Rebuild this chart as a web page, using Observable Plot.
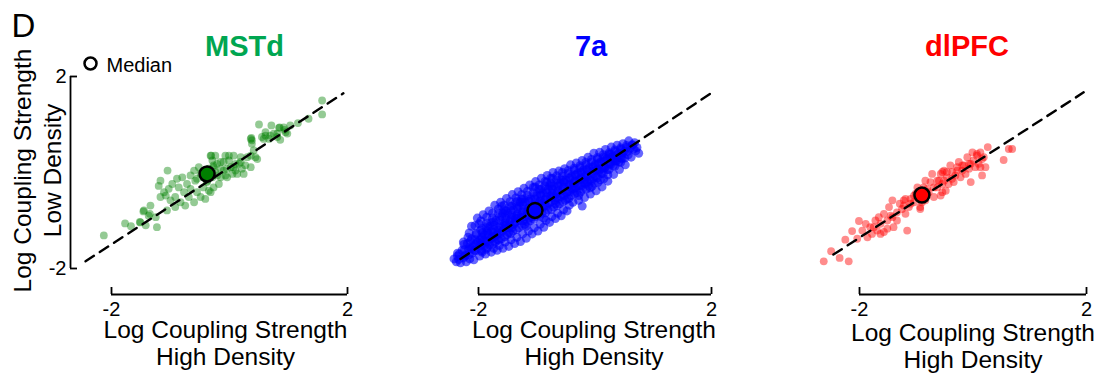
<!DOCTYPE html>
<html><head><meta charset="utf-8">
<script src="https://cdn.jsdelivr.net/npm/d3@7"></script>
<script src="https://cdn.jsdelivr.net/npm/@observablehq/plot@0.6"></script>
<style>
body{margin:0;background:#fff;}
#chart{position:relative;width:1099px;height:375px;display:flex;overflow:hidden;background:#fff;}
#chart svg{display:block;flex:none;}
</style></head><body><div id="chart"></div>
<script>
// ---------------- data ----------------
const regions = ["MSTd", "7a", "dlPFC"];
const xTicks = [-2, 2];
const yTicks = [-2, 2];
const tickLabels = ["-2", "2"];
const xLabel = "Log Coupling Strength\nHigh Density";
const yLabel = "Log Coupling Strength\nLow Density";
const legendLabel = "Median";
const panelLetter = "D";

const mstdPoints = [
[-2.13,-1.31],[-1.77,-1.06],[-1.67,-1.12],[-1.52,-1.03],[-1.46,-0.81],[-1.42,-1.10],[-1.35,-0.86],[-1.23,-1.14],[-1.25,-0.93],[-1.20,-0.28],
[-1.17,-0.51],[-1.11,-0.41],[-1.05,0.04],[-1.03,-0.34],[-1.00,-0.58],[-0.92,-0.51],[-0.89,-0.13],[-0.86,-0.31],[-0.83,-0.62],[-0.77,-0.41],
[-0.72,-0.24],[-0.69,-0.51],[-0.66,-0.34],[-0.60,-0.62],[-0.58,-0.17],[-0.55,-0.41],[-0.49,-0.51],[-0.44,-0.31],[-0.41,-0.55],[-0.38,-0.17],
[-0.35,-0.38],[-0.31,0.35],[-0.60,0.04],[-0.52,0.11],[-0.46,0.01],[-0.27,0.11],[-0.21,-0.06],[-0.15,0.22],[-0.10,0.04],[-0.07,0.35],
[-0.01,0.25],[0.02,0.11],[0.07,0.35],[0.10,0.04],[0.16,0.18],[0.21,0.08],[0.27,0.15],[0.30,0.32],[0.36,0.11],[0.38,0.67],
[0.41,0.46],[0.47,0.28],[0.37,0.72],[0.50,1.00],[0.55,0.74],[0.61,0.77],[0.67,0.70],[0.71,0.98],[0.75,0.81],[0.81,0.74],
[0.84,0.93],[0.86,0.68],[0.93,0.89],[0.98,0.81],[1.03,0.98],[1.34,1.12],[1.57,1.50],[1.57,1.21],[1.16,1.03],[-1.34,-0.69],
[-1.06,-0.79],[-0.92,-0.72],[-0.75,-0.69],[-1.17,-0.17],[-0.97,-0.24],[-0.80,-0.10],[-0.18,-0.24],[-0.27,-0.31],[-0.04,-0.10],[-0.44,-0.10],
[-0.35,0.08],[-0.29,0.25],[-0.24,0.35],[0.19,0.32],[0.24,-0.03],[0.05,-0.03],[0.85,0.94],[0.61,0.84],[0.69,0.77],[0.81,0.81],
[0.95,0.84],[0.92,0.94],[0.58,0.70],[0.36,0.70],[0.38,0.60],[0.44,0.32],[0.36,0.35],[0.19,0.22],[0.07,0.11],[-0.01,0.35],
[-0.10,0.22],[-0.15,0.08],[0.13,-0.03],[-0.07,-0.06],[-0.32,0.35],[-0.27,0.15],[-0.38,-0.20],[-0.32,-0.41],[-0.49,-0.03],[-0.41,0.04],
[-0.29,-0.10],[-0.24,0.01],[-0.55,-0.13],[-0.66,-0.06],[-0.15,-0.10],[-0.04,0.08],[0.10,0.18],[-0.21,0.18],[-1.51,-1.04],[-1.45,-0.79],
[-1.37,-0.90],[-1.08,-0.48]
];

const a7Points = [
[-2.42,-1.80],[-2.38,-1.86],[-2.36,-1.74],
[-2.31,-1.88],[-2.28,-1.62],[-2.26,-1.78],[-2.33,-1.70],[-2.25,-1.50],
[-2.21,-1.86],[-2.18,-1.35],[-2.17,-1.60],[-2.22,-1.72],[-2.15,-1.80],[-2.19,-1.48],
[-2.12,-1.12],[-2.08,-1.82],[-2.10,-1.55],[-2.06,-1.40],[-2.11,-1.68],[-2.04,-1.27],[-2.07,-1.62],
[-2.02,-0.95],[-1.98,-1.74],[-2.01,-1.45],[-1.96,-1.20],[-2.00,-1.58],[-1.95,-1.35],[-1.99,-1.07],[-1.94,-1.66],
[-1.92,-0.88],[-1.88,-1.70],[-1.90,-1.30],[-1.86,-1.05],[-1.89,-1.52],[-1.85,-1.22],[-1.91,-1.42],[-1.87,-1.60],
[-1.82,-0.80],[-1.78,-1.66],[-1.80,-1.12],[-1.76,-0.95],[-1.79,-1.38],[-1.75,-1.25],[-1.81,-1.50],[-1.77,-1.04],[-1.74,-1.58],
[-1.72,-0.68],[-1.68,-1.62],[-1.70,-1.00],[-1.66,-0.85],[-1.69,-1.30],[-1.65,-1.15],[-1.71,-1.45],[-1.67,-1.20],[-1.64,-1.52],
[-1.62,-0.62],[-1.58,-1.58],[-1.60,-0.92],[-1.56,-0.78],[-1.59,-1.22],[-1.55,-1.05],[-1.61,-1.38],[-1.57,-1.10],[-1.54,-1.45],[-1.60,-0.70],
[-1.52,-0.54],[-1.48,-1.54],[-1.50,-0.85],[-1.46,-0.70],[-1.49,-1.15],[-1.45,-0.98],[-1.51,-1.30],[-1.47,-1.02],[-1.44,-1.40],[-1.53,-0.95],
[-1.42,-0.46],[-1.38,-1.48],[-1.40,-0.78],[-1.36,-0.62],[-1.39,-1.08],[-1.35,-0.90],[-1.41,-1.22],[-1.37,-0.95],[-1.34,-1.35],[-1.43,-0.88],
[-1.32,-0.40],[-1.28,-1.44],[-1.30,-0.70],[-1.26,-0.55],[-1.29,-1.00],[-1.25,-0.82],[-1.31,-1.15],[-1.27,-0.88],[-1.24,-1.28],[-1.33,-0.60],
[-1.22,-0.33],[-1.18,-1.37],[-1.20,-0.62],[-1.16,-0.48],[-1.19,-0.92],[-1.15,-0.75],[-1.21,-1.08],[-1.17,-0.80],[-1.14,-1.22],[-1.23,-0.55],
[-1.12,-0.26],[-1.08,-1.28],[-1.10,-0.55],[-1.06,-0.42],[-1.09,-0.85],[-1.05,-0.68],[-1.11,-1.00],[-1.07,-0.72],[-1.04,-1.15],[-1.13,-0.95],
[-1.02,-0.19],[-0.98,-1.22],[-1.00,-0.48],[-0.96,-0.35],[-0.99,-0.78],[-0.95,-0.60],[-1.01,-0.92],[-0.97,-0.65],[-0.94,-1.08],[-1.03,-0.30],
[-0.92,-0.12],[-0.88,-1.14],[-0.90,-0.42],[-0.86,-0.28],[-0.89,-0.72],[-0.85,-0.55],[-0.91,-0.85],[-0.87,-0.58],[-0.84,-1.00],[-0.93,-0.35],
[-0.82,-0.06],[-0.78,-1.04],[-0.80,-0.35],[-0.76,-0.22],[-0.79,-0.64],[-0.75,-0.48],[-0.81,-0.78],[-0.77,-0.50],[-0.74,-0.92],[-0.83,-0.20],
[-0.72,0.00],[-0.68,-0.96],[-0.70,-0.28],[-0.66,-0.15],[-0.69,-0.58],[-0.65,-0.40],[-0.71,-0.72],[-0.67,-0.45],[-0.64,-0.85],[-0.73,-0.12],
[-0.62,0.03],[-0.58,-0.90],[-0.60,-0.22],[-0.56,-0.08],[-0.59,-0.50],[-0.55,-0.32],[-0.61,-0.65],[-0.57,-0.38],[-0.54,-0.78],
[-0.52,0.08],[-0.48,-0.80],[-0.50,-0.15],[-0.46,-0.02],[-0.49,-0.42],[-0.45,-0.25],[-0.51,-0.58],[-0.47,-0.30],[-0.44,-0.68],
[-0.42,0.16],[-0.38,-0.62],[-0.40,-0.08],[-0.36,0.05],[-0.39,-0.35],[-0.35,-0.18],[-0.41,-0.48],[-0.37,-0.22],[-0.22,-0.70],
[-0.32,0.20],[-0.28,-0.58],[-0.30,-0.02],[-0.26,0.10],[-0.29,-0.28],[-0.25,-0.12],[-0.31,-0.42],[-0.27,-0.15],
[-0.22,0.25],[-0.18,-0.52],[-0.20,0.05],[-0.16,0.16],[-0.19,-0.22],[-0.15,-0.05],[-0.21,-0.35],[-0.17,-0.08],
[-0.12,0.32],[-0.08,-0.45],[-0.10,0.10],[-0.06,0.22],[-0.09,-0.15],[-0.05,0.02],[-0.11,-0.28],
[-0.02,0.40],[0.02,-0.38],[0.00,0.16],[0.04,0.28],[0.01,-0.08],[0.05,0.08],[-0.01,-0.22],
[0.08,0.42],[0.12,-0.30],[0.10,0.22],[0.14,0.32],[0.11,-0.02],[0.15,0.12],[0.09,-0.15],
[0.18,0.48],[0.22,-0.18],[0.20,0.28],[0.24,0.38],[0.21,0.06],[0.25,0.18],
[0.28,0.53],[0.32,-0.04],[0.30,0.34],[0.34,0.44],[0.31,0.14],[0.35,0.24],
[0.38,0.57],[0.42,0.06],[0.40,0.40],[0.44,0.48],[0.41,0.22],[0.45,0.30],
[0.48,0.60],[0.52,0.16],[0.50,0.44],[0.54,0.52],[0.51,0.30],
[0.58,0.66],[0.62,0.32],[0.60,0.50],[0.64,0.58],
[0.68,0.62],[0.72,0.52],[0.75,0.40],[0.70,0.45],
[-2.15,-1.55],[-2.05,-1.50],[-1.97,-1.40],[-1.93,-1.25],[-1.84,-1.30],[-1.83,-1.45],[-1.73,-1.10],[-1.73,-1.35],[-1.63,-1.00],[-1.63,-1.28],
[-1.53,-1.10],[-1.53,-0.80],[-1.43,-1.15],[-1.43,-0.70],[-1.33,-0.95],[-1.33,-0.75],[-1.23,-1.00],[-1.23,-0.70],[-1.13,-0.80],[-1.13,-0.60],
[-1.03,-0.85],[-1.03,-0.55],[-0.93,-0.65],[-0.93,-0.48],[-0.83,-0.70],[-0.83,-0.42],[-0.73,-0.52],[-0.73,-0.35],[-0.63,-0.55],[-0.63,-0.28],
[-0.53,-0.48],[-0.53,-0.20],[-0.43,-0.40],[-0.43,-0.12],[-0.33,-0.32],[-0.33,-0.05],[-0.23,-0.28],[-0.23,0.00],[-0.13,-0.20],[-0.13,0.05],
[-0.03,-0.12],[-0.03,0.12],[0.07,0.02],[0.07,0.20],[0.17,0.10],[0.17,0.30],[0.27,0.22],[0.27,0.38],[0.37,0.30],[0.47,0.38],
[-2.12,-1.38],[-1.95,-1.52],[-1.87,-1.15],[-1.78,-1.22],[-1.68,-1.40],[-1.58,-0.85],[-1.48,-1.25],[-1.38,-1.05],[-1.28,-0.62],[-1.18,-1.12],
[-1.08,-0.92],[-0.98,-0.72],[-0.88,-0.95],[-0.78,-0.28],[-0.68,-0.65],[-0.58,-0.15],[-0.48,-0.55],[-0.38,-0.28],[-0.28,-0.48],[-0.18,-0.15],
[-0.08,-0.32],[0.02,0.05],[0.12,0.08],[0.22,-0.05],[0.32,0.30],
[-2.36,-1.68],[-2.34,-1.81],[-2.26,-1.45],[-2.24,-1.61],[-2.23,-1.74],[-2.16,-1.26],[-2.14,-1.43],[-2.13,-1.59],[-2.16,-1.71],
[-2.06,-1.11],[-2.04,-1.29],[-2.03,-1.46],[-2.05,-1.63],[-1.96,-1.01],[-1.94,-1.17],[-1.93,-1.36],[-1.96,-1.49],[-1.95,-1.63],
[-1.86,-0.93],[-1.84,-1.11],[-1.83,-1.27],[-1.86,-1.43],[-1.85,-1.57],[-1.76,-0.85],[-1.74,-1.03],[-1.73,-1.19],[-1.76,-1.34],[-1.75,-1.49],
[-1.66,-0.76],[-1.64,-0.93],[-1.63,-1.11],[-1.66,-1.26],[-1.65,-1.41],[-1.56,-0.68],[-1.54,-0.86],[-1.53,-1.03],[-1.56,-1.18],[-1.55,-1.34],
[-1.46,-0.61],[-1.44,-0.79],[-1.43,-0.94],[-1.46,-1.11],[-1.45,-1.27],[-1.36,-0.53],[-1.34,-0.71],[-1.33,-0.87],[-1.36,-1.03],[-1.35,-1.19],
[-1.26,-0.46],[-1.24,-0.63],[-1.23,-0.81],[-1.26,-0.94],[-1.25,-1.11],[-1.16,-0.39],[-1.14,-0.56],[-1.13,-0.73],[-1.16,-0.88],[-1.15,-1.04],
[-1.06,-0.31],[-1.04,-0.49],[-1.03,-0.66],[-1.06,-0.81],[-1.05,-0.97],[-0.96,-0.26],[-0.94,-0.43],[-0.93,-0.59],[-0.96,-0.74],[-0.95,-0.91],
[-0.86,-0.19],[-0.84,-0.36],[-0.83,-0.51],[-0.86,-0.69],[-0.85,-0.84],[-0.76,-0.12],[-0.74,-0.29],[-0.73,-0.44],[-0.76,-0.61],[-0.75,-0.77],
[-0.66,-0.07],[-0.64,-0.23],[-0.63,-0.38],[-0.66,-0.53],[-0.65,-0.69],[-0.56,0.00],[-0.54,-0.16],[-0.53,-0.31],[-0.56,-0.46],[-0.55,-0.61],
[-0.46,0.04],[-0.44,-0.11],[-0.43,-0.26],[-0.46,-0.39],[-0.45,-0.54],[-0.36,0.09],[-0.34,-0.05],[-0.33,-0.19],[-0.36,-0.33],[-0.35,-0.44],
[-0.26,0.14],[-0.24,0.01],[-0.23,-0.14],[-0.26,-0.27],[-0.25,-0.41],[-0.16,0.21],[-0.14,0.06],[-0.13,-0.09],[-0.16,-0.23],[-0.15,-0.35],
[-0.06,0.27],[-0.04,0.11],[-0.03,-0.03],[-0.06,-0.17],[-0.05,-0.29],[0.04,0.31],[0.06,0.17],[0.07,0.05],[0.04,-0.11],[0.05,-0.21],
[0.14,0.37],[0.16,0.23],[0.17,0.11],[0.14,-0.03],[0.15,-0.13],[0.24,0.41],[0.26,0.31],[0.27,0.17],[0.24,0.06],
[0.34,0.47],[0.36,0.36],[0.37,0.24],[0.34,0.13],[0.44,0.51],[0.46,0.41],[0.47,0.29],[0.44,0.21],
[0.54,0.56],[0.56,0.44],[0.57,0.37],[0.64,0.57],[0.66,0.49]
];

const dlpfcPoints = [
[-2.63,-1.85],[-2.50,-1.64],[-2.35,-1.78],[-2.19,-1.85],[-2.25,-1.40],[-2.13,-1.22],[-2.04,-1.38],[-2.01,-1.01],[-1.95,-1.21],[-1.89,-1.07],
[-1.86,-1.35],[-1.81,-1.14],[-1.78,-1.28],[-1.72,-1.00],[-1.69,-1.21],[-1.66,-0.93],[-1.63,-1.07],[-1.57,-0.86],[-1.57,-1.24],[-1.51,-1.00],
[-1.48,-0.72],[-1.45,-0.90],[-1.42,-0.58],[-1.40,-1.14],[-1.34,-0.83],[-1.29,-0.65],[-1.25,-0.76],[-1.22,-0.58],[-1.16,-1.21],[-1.19,-0.86],
[-1.13,-0.72],[-1.10,-0.55],[-1.04,-0.62],[-1.01,-0.44],[-0.98,-0.31],[-0.93,-0.55],[-0.93,-0.76],[-0.87,-0.31],[-0.84,-0.58],[-0.78,-0.41],
[-0.75,-0.20],[-0.72,-0.03],[-0.69,-0.51],[-0.63,-0.31],[-0.60,-0.17],[-0.57,-0.03],[-0.54,-0.24],[-0.51,0.04],[-0.48,-0.38],[-0.46,-0.10],
[-0.43,-0.24],[-0.40,0.15],[-0.37,0.01],[-0.34,-0.20],[-0.31,-0.06],[-0.28,0.11],[-0.25,0.22],[-0.22,-0.10],[-0.19,0.04],[-0.16,0.15],
[-0.13,-0.03],[-0.10,0.32],[-0.07,0.08],[-0.04,0.18],[-0.01,0.42],[0.01,0.25],[0.04,0.11],[0.07,0.35],[0.10,0.18],[0.13,0.42],
[0.16,0.28],[0.22,0.11],[0.26,0.53],[0.54,0.26],[0.63,0.49],[0.69,0.49],[0.07,0.39],[0.19,0.32],[0.13,0.11],[-0.07,0.18],
[-0.19,0.15],[-0.28,0.04],[-0.46,0.01],[-0.54,0.01],[-0.63,-0.17],[-0.51,-0.17],[-0.37,-0.13],[-0.04,-0.20],[0.16,-0.06],[-0.84,-0.17],
[-0.81,-0.34],[-0.69,-0.31],[-0.54,-0.41],[-0.57,-0.48],[-1.19,-0.55],[-1.22,-0.69],[-0.93,-0.72],[-0.98,-0.51],[-0.81,-0.44],[-1.04,-0.48],
[-0.90,-0.62],[-1.10,-0.65],[-1.34,-1.00],[-1.51,-1.17],[-1.75,-1.14],[-1.63,-1.28],[-1.42,-0.93]
];

const medians = [[-0.38, -0.03], [-1.03, -0.79], [-0.90, -0.47]];
const unityLines = [
  [[-2.44, -1.85], [1.93, 1.65]],
  [[-2.31, -1.80], [2.04, 1.69]],
  [[-2.46, -1.71], [1.95, 1.67]]
];

// ---------------- layout / style ----------------
const FONT = "'Liberation Sans', Arial, Helvetica, sans-serif";
const pointSets = [mstdPoints, a7Points, dlpfcPoints];
const layout = [
  {width: 400, ml: 111, mr: 53, title: "#00a651", color: "#008000", op: 0.42, r: 3.9, tdx: 15, ldx: -4, ldy: 0},
  {width: 370, ml: 78,  mr: 59, title: "#0000ff", color: "#0000ff", op: 0.6,  r: 4.5, tdx: -4, ldx: -1, ldy: 0},
  {width: 329, ml: 89,  mr: 13, title: "#ff0000", color: "#ff0000", op: 0.45, r: 3.9, tdx: -6, ldx: 0,  ldy: 3}
];
const H = 375, MT = 76, MB = 107, AXIS_OFF = 26, TICK = 7;

function panel(i) {
  const L = layout[i];
  const frameW = L.width - L.ml - L.mr;
  const frameH = H - MT - MB;
  const marks = [
    Plot.dot(pointSets[i], {x: d => d[0], y: d => d[1], r: L.r, fill: L.color, fillOpacity: L.op, stroke: "none"}),
    Plot.line(unityLines[i], {x: d => d[0], y: d => d[1], stroke: "black", strokeWidth: 2.4, strokeDasharray: "10,7"}),
    Plot.dot([medians[i]], {x: d => d[0], y: d => d[1], r: 7.5, fill: L.color, stroke: "black", strokeWidth: 2.5}),
    // title
    Plot.text([regions[i]], {text: d => d, frameAnchor: "top", dx: L.tdx, dy: -21, lineAnchor: "bottom",
      fontSize: 29, fontWeight: "bold", fill: L.title}),
    // x axis (offset bracket)
    Plot.ruleY([yTicks[0]], {dy: AXIS_OFF, stroke: "black", strokeWidth: 1.8}),
    Plot.tickX(xTicks, {x: d => d, dy: AXIS_OFF, insetTop: frameH - TICK, stroke: "black", strokeWidth: 1.8}),
    Plot.text(xTicks, {x: d => d, text: (d, j) => tickLabels[j], frameAnchor: "bottom", dy: 47, lineAnchor: "bottom", fontSize: 20}),
    Plot.text([xLabel], {text: d => d, frameAnchor: "bottom", dx: L.ldx, dy: 96 + L.ldy, lineAnchor: "bottom", lineHeight: 1.1, fontSize: 24.5})
  ];
  if (i === 0) {
    marks.push(
      Plot.ruleX([xTicks[0]], {dx: -41, stroke: "black", strokeWidth: 1.8}),
      Plot.tickY(yTicks, {y: d => d, dx: -41, insetRight: frameW - TICK, stroke: "black", strokeWidth: 1.8}),
      Plot.text(yTicks, {y: d => d, text: (d, j) => tickLabels[j], frameAnchor: "left", dx: -45, textAnchor: "end", lineAnchor: "middle", fontSize: 20}),
      Plot.text([yLabel], {text: d => d, frameAnchor: "left", rotate: -90, dx: -101, dy: -2, lineAnchor: "top", lineHeight: 1.2, fontSize: 24.5, textAnchor: "middle"}),
      Plot.dot([legendLabel], {frameAnchor: "top-left", dx: -21, dy: -13, r: 6, fill: "none", stroke: "black", strokeWidth: 2.5}),
      Plot.text([legendLabel], {text: d => d, frameAnchor: "top-left", dx: -5, dy: -5, textAnchor: "start", lineAnchor: "bottom", fontSize: 20}),
      Plot.text([panelLetter], {text: d => d, frameAnchor: "top-left", dx: -100, dy: -40, textAnchor: "start", lineAnchor: "bottom", fontSize: 33})
    );
  }
  return Plot.plot({
    width: L.width, height: H,
    marginLeft: L.ml, marginRight: L.mr, marginTop: MT, marginBottom: MB,
    x: {domain: [xTicks[0], xTicks[1]], axis: null},
    y: {domain: [yTicks[0], yTicks[1]], axis: null},
    style: {fontFamily: FONT, background: "white", overflow: "visible", color: "black"},
    marks
  });
}

const root = document.getElementById("chart");
regions.forEach((_, i) => root.appendChild(panel(i)));
</script></body></html>
